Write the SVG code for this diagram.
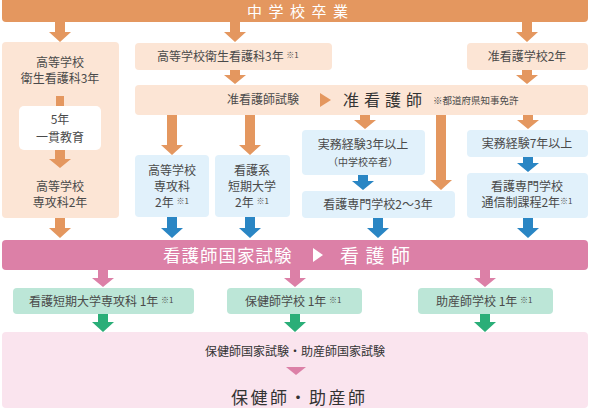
<svg xmlns="http://www.w3.org/2000/svg" width="590" height="410" viewBox="0 0 590 410">
<style>
text{font-family:"Noto Sans CJK JP","Noto Sans",sans-serif;fill:#4a4a4a;}
.t{font-size:12px;text-anchor:middle;}
.s{font-size:8px;}
.peach{fill:#FCE5D5;}
.blue{fill:#E1F1FB;}
.green{fill:#BCE6D7;}
.oa{fill:#E4975F;}
.ba{fill:#2A86C4;}
.pa{fill:#DC80A7;}
.ga{fill:#2AAE78;}
</style>
<rect width="590" height="410" fill="#ffffff"/>

<g id="top">
<rect x="2" y="-4" width="586" height="26" rx="4" fill="#E4975F"/>
<text x="247" y="16.5" style="font-size:15px;letter-spacing:6.5px;fill:#fff;">中学校卒業</text>
</g>

<g id="left-course">
<rect class="peach" x="2" y="42" width="117" height="176" rx="4"/>
<text class="t" x="60" y="67">高等学校</text>
<text class="t" x="60" y="83">衛生看護科3年</text>
<rect x="56" y="96" width="8" height="10" class="oa"/>
<rect x="19" y="106" width="82" height="44" rx="5" fill="#ffffff"/>
<text class="t" x="60" y="124">5年</text>
<text class="t" x="60" y="142">一貫教育</text>
<polygon class="oa" points="55,150 65,150 65,159 71,159 60,168 49,159 55,159"/>
<text class="t" x="60" y="191">高等学校</text>
<text class="t" x="60" y="207">専攻科2年</text>
</g>

<g id="koukou-eisei">
<rect class="peach" x="135" y="43" width="197" height="27" rx="4"/>
<text x="157" y="61" style="font-size:12px;">高等学校衛生看護科3年 <tspan class="s" dy="-3">※1</tspan></text>
</g>

<g id="junkango-gakko">
<rect class="peach" x="467" y="43" width="121" height="27" rx="4"/>
<text class="t" x="527" y="61">准看護学校2年</text>
</g>

<g id="junkango-shiken">
<rect class="peach" x="135" y="85" width="453" height="30" rx="4"/>
<text x="227" y="104" style="font-size:12px;">准看護師試験</text>
<polygon points="320,93 331,100 320,107" fill="#E4975F"/>
<text x="343" y="106" style="font-size:16px;letter-spacing:5px;fill:#333;">准看護師</text>
<text x="433" y="104" style="font-size:9.5px;">※都道府県知事免許</text>
</g>

<g id="senkouka">
<rect class="blue" x="135" y="155" width="74" height="62" rx="4"/>
<text class="t" x="172" y="175">高等学校</text>
<text class="t" x="172" y="191">専攻科</text>
<text class="t" x="172" y="207">2年 <tspan class="s" dy="-3">※1</tspan></text>
</g>

<g id="tanki-daigaku">
<rect class="blue" x="215" y="155" width="75" height="62" rx="4"/>
<text class="t" x="252" y="175">看護系</text>
<text class="t" x="252" y="191">短期大学</text>
<text class="t" x="252" y="207">2年 <tspan class="s" dy="-3">※1</tspan></text>
</g>

<g id="jitsumu3">
<rect class="blue" x="302" y="130" width="123" height="45" rx="4"/>
<text class="t" x="363" y="149">実務経験3年以上</text>
<text class="t" x="363" y="166" style="font-size:10px;">（中学校卒者）</text>
</g>

<g id="senmon23">
<rect class="blue" x="302" y="191" width="153" height="27" rx="4"/>
<text class="t" x="378" y="209">看護専門学校2～3年</text>
</g>

<g id="jitsumu7">
<rect class="blue" x="467" y="130" width="121" height="27" rx="4"/>
<text class="t" x="527" y="148">実務経験7年以上</text>
</g>

<g id="tsushin">
<rect class="blue" x="467" y="173" width="121" height="45" rx="4"/>
<text class="t" x="527" y="191">看護専門学校</text>
<text class="t" x="527" y="207">通信制課程2年<tspan class="s" dy="-3">※1</tspan></text>
</g>

<g id="kangoshi">
<rect x="2" y="240" width="586" height="30" rx="4" fill="#DC80A7"/>
<text x="163" y="262" style="font-size:17.5px;letter-spacing:1px;fill:#fff;">看護師国家試験</text>
<polygon points="313,248 323,255 313,262" fill="#ffffff"/>
<text x="340" y="263" style="font-size:19px;letter-spacing:6.5px;fill:#fff;">看護師</text>
</g>

<g id="tanki-senkouka">
<rect class="green" x="13" y="288" width="181" height="26" rx="4"/>
<text x="29" y="306" style="font-size:12px;">看護短期大学専攻科 1年 <tspan class="s" dy="-3">※1</tspan></text>
</g>

<g id="hokenshi-gakko">
<rect class="green" x="227" y="288" width="135" height="26" rx="4"/>
<text x="245" y="306" style="font-size:12px;">保健師学校 1年 <tspan class="s" dy="-3">※1</tspan></text>
</g>

<g id="josanshi-gakko">
<rect class="green" x="418" y="288" width="135" height="26" rx="4"/>
<text x="436" y="306" style="font-size:12px;">助産師学校 1年 <tspan class="s" dy="-3">※1</tspan></text>
</g>

<g id="hokenshi-josanshi">
<rect x="2" y="332" width="586" height="76" rx="4" fill="#FAE4EE"/>
<text class="t" x="295" y="356" style="fill:#333;">保健師国家試験・助産師国家試験</text>
<polygon points="286,367 306,367 296,375" fill="#DC80A7"/>
<text x="231" y="404" style="font-size:17px;letter-spacing:2.5px;fill:#333;">保健師・助産師</text>
</g>

<g id="connectors">
<polygon class="oa" points="55,22 65,22 65,32 71,32 60,42 49,32 55,32"/>
<polygon class="oa" points="230,22 240,22 240,32 246,32 235,42 224,32 230,32"/>
<polygon class="oa" points="522,22 532,22 532,32 538,32 527,42 516,32 522,32"/>
<polygon class="oa" points="230,70 240,70 240,75 246,75 235,84 224,75 230,75"/>
<polygon class="oa" points="522,70 532,70 532,75 538,75 527,84 516,75 522,75"/>
<polygon class="oa" points="55,218 65,218 65,228 71,228 60,238 49,228 55,228"/>
<polygon class="oa" points="167,115 177,115 177,145 183,145 172,155 161,145 167,145"/>
<polygon class="oa" points="245,115 255,115 255,145 261,145 250,155 239,145 245,145"/>
<polygon class="oa" points="360,115 370,115 370,120 376,120 365,129 354,120 360,120"/>
<polygon class="oa" points="436,115 446,115 446,180 452,180 441,190 430,180 436,180"/>
<polygon class="oa" points="523,115 533,115 533,120 539,120 528,129 517,120 523,120"/>
<polygon class="ba" points="167,217 177,217 177,228 183,228 172,238 161,228 167,228"/>
<polygon class="ba" points="245,217 255,217 255,228 261,228 250,238 239,228 245,228"/>
<polygon class="ba" points="358,175 368,175 368,181 374,181 363,190 352,181 358,181"/>
<polygon class="ba" points="373,218 383,218 383,228 389,228 378,238 367,228 373,228"/>
<polygon class="ba" points="523,157 533,157 533,163 539,163 528,172 517,163 523,163"/>
<polygon class="ba" points="523,218 533,218 533,228 539,228 528,238 517,228 523,228"/>
<polygon class="pa" points="98,270 108,270 108,278 114,278 103,287 92,278 98,278"/>
<polygon class="pa" points="290,270 300,270 300,278 306,278 295,287 284,278 290,278"/>
<polygon class="pa" points="480,270 490,270 490,278 496,278 485,287 474,278 480,278"/>
<polygon class="ga" points="98,314 108,314 108,322 114,322 103,332 92,322 98,322"/>
<polygon class="ga" points="290,314 300,314 300,322 306,322 295,332 284,322 290,322"/>
<polygon class="ga" points="480,314 490,314 490,322 496,322 485,332 474,322 480,322"/>
</g>
</svg>
